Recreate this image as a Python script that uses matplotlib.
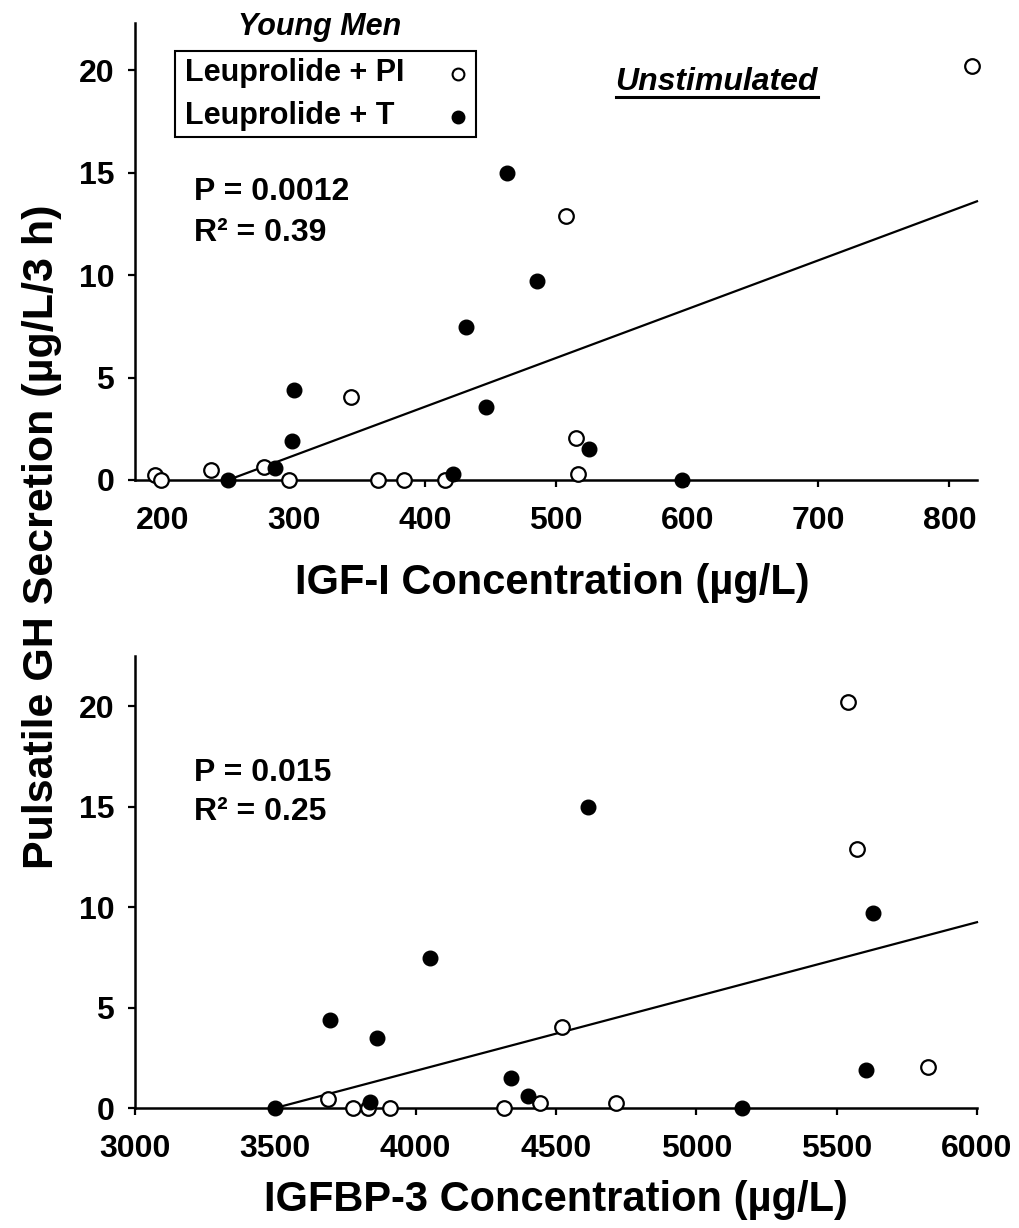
import matplotlib
matplotlib.use("Agg")
import matplotlib.pyplot as plt
from matplotlib.lines import Line2D
from matplotlib.patches import Rectangle

plt.rcParams['font.family'] = ['Liberation Sans', 'DejaVu Sans']
plt.rcParams['font.weight'] = 'bold'

# ---------------- data ----------------
top_pi_x = [194, 198.5, 237, 277, 296.5, 344, 364.5, 384, 415.5, 508, 515, 517, 817.5]
top_pi_y = [0.25, 0, 0.5, 0.65, 0, 4.05, 0, 0, 0, 12.9, 2.05, 0.27, 20.2]
top_t_x = [250, 286, 298.5, 300, 421.5, 431, 447, 462.5, 485.5, 525, 596]
top_t_y = [0, 0.6, 1.9, 4.4, 0.3, 7.45, 3.55, 15.0, 9.7, 1.5, 0]
top_fit_x = [250, 821]
top_fit_y = [0, 13.6]

bot_pi_x = [3686, 3778, 3830, 3907, 4314, 4444, 4522, 4714, 5539, 5571, 5825]
bot_pi_y = [0.45, 0, 0, 0, 0, 0.27, 4.05, 0.27, 20.2, 12.9, 2.05]
bot_t_x = [3500, 3696, 3837, 3864, 4050, 4341, 4399, 4613, 5163, 5603, 5628]
bot_t_y = [0, 4.4, 0.3, 3.5, 7.45, 1.5, 0.6, 15.0, 0, 1.9, 9.7]
bot_fit_x = [3500, 6000]
bot_fit_y = [0, 9.25]

top_xticks = [200, 300, 400, 500, 600, 700, 800]
bot_xticks = [3000, 3500, 4000, 4500, 5000, 5500, 6000]
yticks = [0, 5, 10, 15, 20]
series_labels = ['Leuprolide + PI', 'Leuprolide + T']

W, H = 1020, 1228
fig = plt.figure(figsize=(W / 100, H / 100), dpi=100)


def fx(px):
    return px / W


def fy(py):
    return 1 - py / H


ax1 = fig.add_axes([fx(135), fy(480), fx(977) - fx(135), (480 - 23) / H])
ax2 = fig.add_axes([fx(135), fy(1108), fx(977) - fx(135), (1108 - 656) / H])

ms = 10.5
for ax, pix, piy, tx, ty, fitx, fity, xt, xl in [
    (ax1, top_pi_x, top_pi_y, top_t_x, top_t_y, top_fit_x, top_fit_y, top_xticks, (179, 821)),
    (ax2, bot_pi_x, bot_pi_y, bot_t_x, bot_t_y, bot_fit_x, bot_fit_y, bot_xticks, (3000, 6000)),
]:
    ax.plot(fitx, fity, color='black', lw=1.6, zorder=2, clip_on=False)
    ax.plot(pix, piy, 'o', ms=ms, mfc='white', mec='black', mew=1.6,
            ls='none', zorder=4, clip_on=False)
    ax.plot(tx, ty, 'o', ms=ms, mfc='black', mec='black', mew=1.0,
            ls='none', zorder=5, clip_on=False)
    ax.set_xlim(*xl)
    ax.set_xticks(xt)
    ax.set_yticks(yticks)
    for s in ['top', 'right']:
        ax.spines[s].set_visible(False)
    for s in ['left', 'bottom']:
        ax.spines[s].set_linewidth(1.8)
    ax.tick_params(direction='out', length=5, width=1.6, labelsize=23)
    ax.tick_params(axis='y', pad=10)
    ax.tick_params(axis='x', pad=14)
    for lab in ax.get_xticklabels() + ax.get_yticklabels():
        lab.set_fontweight('bold')

ax1.set_ylim(0, 22.3)
ax2.set_ylim(0, 22.5)


# manual legend (text left-aligned, markers on the right), in ax1 axes fraction
def axf(px, py):
    return ((px - 135) / 842, (480 - py) / 457)


x0, y0 = axf(175, 137)
x1, y1 = axf(476, 51)
ax1.add_patch(Rectangle((x0, y0), x1 - x0, y1 - y0, transform=ax1.transAxes,
                        fill=False, edgecolor='black', lw=1.5, clip_on=False, zorder=6))
for i, (lab, fc) in enumerate(zip(series_labels, ['white', 'black'])):
    ty_px = 73 + i * 43
    ax1.text(*axf(185, ty_px), lab, transform=ax1.transAxes, ha='left', va='center',
             fontsize=22, fontweight='bold', zorder=7)
    mx, my = axf(458, ty_px + 1)
    ax1.add_line(Line2D([mx], [my], transform=ax1.transAxes, marker='o', ms=8.5,
                        mfc=fc, mec='black', mew=1.5, ls='none', clip_on=False, zorder=7))

# texts
fig.text(fx(320), fy(35), 'Young Men', ha='center', va='baseline', fontsize=22,
         fontweight='bold', style='italic')
unst = fig.text(fx(818), fy(90), 'Unstimulated', ha='right', va='baseline', fontsize=23,
                fontweight='bold', style='italic')

fig.text(fx(194), fy(192), 'P = 0.0012', ha='left', va='center', fontsize=23, fontweight='bold')
fig.text(fx(194), fy(233), 'R² = 0.39', ha='left', va='center', fontsize=23, fontweight='bold')
fig.text(fx(194), fy(773), 'P = 0.015', ha='left', va='center', fontsize=23, fontweight='bold')
fig.text(fx(194), fy(812), 'R² = 0.25', ha='left', va='center', fontsize=23, fontweight='bold')

fig.text(fx(552), fy(583), 'IGF-I Concentration (µg/L)', ha='center', va='center',
         fontsize=30, fontweight='bold')
fig.text(fx(556), fy(1200), 'IGFBP-3 Concentration (µg/L)', ha='center', va='center',
         fontsize=30, fontweight='bold')
fig.text(fx(42), fy(537), 'Pulsatile GH Secretion (µg/L/3 h)', ha='center', va='center',
         rotation=90, fontsize=31, fontweight='bold')

# underline for "Unstimulated"
fig.canvas.draw()
bb = unst.get_window_extent(fig.canvas.get_renderer())
uy = fy(97)
fig.add_artist(Line2D([bb.x0 / W, bb.x1 / W], [uy, uy], transform=fig.transFigure,
                      color='black', lw=2.2))

fig.savefig('out.png', dpi=100, facecolor='white')
